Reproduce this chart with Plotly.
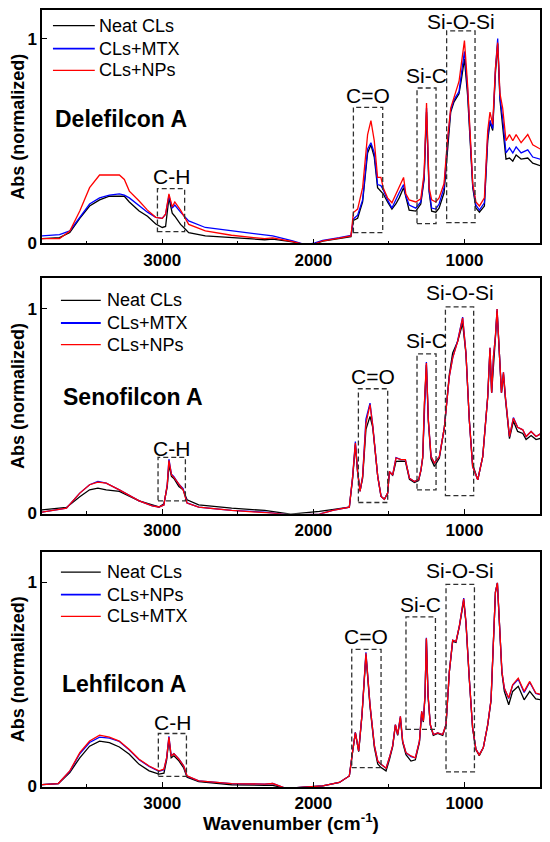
import plotly.graph_objects as go
from plotly.subplots import make_subplots

# ---- Delefilcon A ----
DELE_WN = [3800, 3680, 3612, 3546, 3481, 3415, 3350, 3284, 3251, 3218, 3153, 3098, 3043, 3000,
           2978, 2956, 2934, 2917, 2879, 2858, 2825, 2715, 2542, 2322, 2269, 2137, 2050, 1990,
           1938, 1828, 1751, 1735, 1707, 1674, 1641, 1619, 1597, 1575, 1553, 1538, 1509, 1480,
           1454, 1432, 1403, 1388, 1366, 1322, 1289, 1267, 1251, 1234, 1217, 1190, 1168, 1135,
           1113, 1091, 1069, 1036, 1020, 1000, 979, 957, 945, 924, 901, 868, 846, 831, 813,
           795, 780, 765, 747, 725, 702, 680, 658, 625, 581, 548, 493]
DELE_NEAT = [0.02, 0.025, 0.05, 0.12, 0.18, 0.21, 0.228, 0.23, 0.228, 0.20, 0.156, 0.13, 0.092, 0.075,
             0.08, 0.22, 0.145, 0.13, 0.09, 0.075, 0.05, 0.034, 0.026, 0.015, 0.018, 0.004, -0.01, -0.005,
             0.008, 0.02, 0.03, 0.11, 0.12, 0.20, 0.44, 0.48, 0.42, 0.27, 0.25, 0.24, 0.20, 0.165,
             0.19, 0.22, 0.27, 0.22, 0.16, 0.155, 0.19, 0.31, 0.64, 0.25, 0.155, 0.15, 0.17, 0.245,
             0.465, 0.64, 0.69, 0.73, 0.80, 0.90, 0.72, 0.44, 0.27, 0.17, 0.15, 0.18, 0.50, 0.59, 0.55,
             0.83, 0.975, 0.70, 0.58, 0.41, 0.415, 0.40, 0.43, 0.41, 0.415, 0.39, 0.376]
DELE_MTX = [0.034, 0.04, 0.058, 0.125, 0.19, 0.22, 0.233, 0.24, 0.233, 0.22, 0.18, 0.15, 0.125, 0.12,
            0.14, 0.23, 0.17, 0.185, 0.15, 0.135, 0.107, 0.075, 0.058, 0.037, 0.034, 0.01, -0.01, 0.0,
            0.012, 0.025, 0.036, 0.117, 0.135, 0.21, 0.46, 0.49, 0.44, 0.285, 0.28, 0.26, 0.21, 0.17,
            0.215, 0.245, 0.285, 0.23, 0.185, 0.17, 0.20, 0.32, 0.66, 0.26, 0.17, 0.165, 0.19, 0.27,
            0.485, 0.65, 0.70, 0.74, 0.83, 0.937, 0.75, 0.45, 0.28, 0.185, 0.16, 0.196, 0.52, 0.60, 0.56,
            0.85, 1.0, 0.71, 0.61, 0.44, 0.465, 0.44, 0.47, 0.44, 0.455, 0.42, 0.408]
DELE_NPS = [0.02, 0.02, 0.058, 0.156, 0.27, 0.332, 0.332, 0.332, 0.31, 0.253, 0.205, 0.16, 0.125, 0.12,
            0.14, 0.24, 0.176, 0.20, 0.16, 0.13, 0.09, 0.058, 0.037, 0.02, 0.024, 0.006, -0.01, -0.005,
            0.01, 0.023, 0.034, 0.148, 0.165, 0.27, 0.53, 0.598, 0.50, 0.32, 0.32, 0.27, 0.22, 0.196,
            0.24, 0.27, 0.32, 0.24, 0.21, 0.20, 0.215, 0.34, 0.684, 0.27, 0.21, 0.20, 0.22, 0.29,
            0.50, 0.66, 0.717, 0.79, 0.88, 0.99, 0.77, 0.47, 0.29, 0.20, 0.18, 0.22, 0.55, 0.64, 0.58,
            0.855, 0.98, 0.73, 0.66, 0.50, 0.53, 0.50, 0.53, 0.49, 0.53, 0.48, 0.457]

# ---- Senofilcon A ----
SENO_WN = [3800, 3634, 3546, 3481, 3426, 3371, 3284, 3240, 3153, 3066, 3022, 2989, 2967, 2956,
           2939, 2923, 2890, 2862, 2836, 2759, 2541, 2322, 2269, 2150, 1960, 1872, 1762, 1740,
           1722, 1707, 1691, 1674, 1652, 1625, 1607, 1574, 1552, 1530, 1508, 1497, 1475, 1453,
           1420, 1391, 1364, 1331, 1303, 1288, 1276, 1265, 1252, 1239, 1221, 1199, 1166, 1133,
           1100, 1078, 1045, 1012, 990, 968, 946, 912, 879, 846, 831, 820, 808, 795, 784, 769,
           755, 742, 729, 702, 676, 648, 614, 592, 559, 526, 493]
SENO_NEAT = [0.016, 0.028, 0.08, 0.114, 0.122, 0.114, 0.106, 0.09, 0.06, 0.04, 0.03, 0.046, 0.13, 0.236,
             0.18, 0.17, 0.13, 0.114, 0.065, 0.04, 0.024, 0.013, 0.008, -0.005, 0.008, 0.016, 0.029, 0.17,
             0.335, 0.2, 0.11, 0.17, 0.41, 0.474, 0.42, 0.18, 0.082, 0.068, 0.098, 0.2, 0.185, 0.253,
             0.255, 0.253, 0.165, 0.15, 0.16, 0.21, 0.27, 0.53, 0.725, 0.45, 0.265, 0.229, 0.27, 0.42,
             0.68, 0.784, 0.84, 0.93, 0.78, 0.457, 0.24, 0.163, 0.277, 0.57, 0.80, 0.59, 0.75, 0.86, 0.99, 0.78,
             0.59, 0.68, 0.56, 0.365, 0.45, 0.40, 0.39, 0.36, 0.38, 0.36, 0.367]
SENO_MTX = [0.004, 0.024, 0.098, 0.139, 0.155, 0.147, 0.114, 0.095, 0.06, 0.035, 0.03, 0.04, 0.14, 0.264,
            0.19, 0.178, 0.141, 0.12, 0.05, 0.029, 0.013, 0.005, 0.0, -0.01, -0.005, 0.013, 0.029, 0.18,
            0.35, 0.2, 0.106, 0.18, 0.46, 0.539, 0.43, 0.18, 0.082, 0.068, 0.098, 0.204, 0.187, 0.272,
            0.262, 0.262, 0.171, 0.155, 0.165, 0.21, 0.277, 0.539, 0.74, 0.457, 0.277, 0.245, 0.277, 0.42,
            0.67, 0.76, 0.845, 0.96, 0.784, 0.457, 0.228, 0.163, 0.277, 0.57, 0.81, 0.59, 0.767, 0.866, 1.0, 0.784,
            0.59, 0.69, 0.57, 0.375, 0.468, 0.42, 0.408, 0.375, 0.40, 0.375, 0.39]
SENO_NPS = [0.004, 0.024, 0.098, 0.139, 0.152, 0.147, 0.114, 0.095, 0.06, 0.035, 0.03, 0.04, 0.14, 0.258,
            0.187, 0.175, 0.139, 0.114, 0.049, 0.029, 0.013, 0.005, 0.0, -0.01, -0.005, 0.013, 0.029, 0.18,
            0.343, 0.2, 0.106, 0.18, 0.44, 0.531, 0.427, 0.18, 0.082, 0.068, 0.098, 0.204, 0.187, 0.27,
            0.262, 0.262, 0.171, 0.155, 0.165, 0.21, 0.277, 0.539, 0.735, 0.457, 0.277, 0.245, 0.277, 0.42,
            0.67, 0.76, 0.84, 0.956, 0.784, 0.457, 0.228, 0.163, 0.277, 0.57, 0.81, 0.59, 0.767, 0.866, 1.0, 0.784,
            0.59, 0.69, 0.57, 0.375, 0.465, 0.42, 0.408, 0.375, 0.40, 0.375, 0.39]

# ---- Lehfilcon A ----
LEHF_WN = [3800, 3688, 3612, 3546, 3481, 3415, 3350, 3284, 3218, 3153, 3087, 3022, 2989, 2971,
           2956, 2941, 2923, 2890, 2858, 2836, 2759, 2541, 2322, 2269, 2181, 1938, 1828, 1762,
           1740, 1722, 1700, 1678, 1652, 1625, 1596, 1574, 1552, 1519, 1497, 1475, 1457, 1442,
           1424, 1409, 1387, 1354, 1325, 1298, 1283, 1272, 1261, 1252, 1241, 1226, 1206, 1177,
           1144, 1122, 1100, 1078, 1056, 1033, 1005, 990, 968, 946, 924, 902, 875, 846, 824, 808,
           795, 782, 769, 752, 736, 707, 681, 644, 605, 568, 528, 488]
LEHF_NEAT = [0.008, 0.014, 0.068, 0.14, 0.197, 0.222, 0.214, 0.193, 0.157, 0.108, 0.076, 0.06, 0.065, 0.13,
             0.23, 0.14, 0.15, 0.125, 0.09, 0.045, 0.024, 0.008, 0.005, 0.005, -0.01, 0.003, 0.019, 0.051,
             0.17, 0.263, 0.17, 0.35, 0.643, 0.39, 0.19, 0.11, 0.092, 0.076, 0.13, 0.195, 0.30, 0.25,
             0.335, 0.215, 0.155, 0.124, 0.13, 0.215, 0.36, 0.315, 0.44, 0.72, 0.44, 0.30, 0.25, 0.26,
             0.25, 0.30, 0.56, 0.71, 0.705, 0.785, 0.91, 0.80, 0.525, 0.285, 0.18, 0.15, 0.19, 0.30, 0.42, 0.69,
             0.95, 0.995, 0.82, 0.555, 0.465, 0.40, 0.465, 0.49, 0.424, 0.465, 0.428, 0.424]
LEHF_NPS = [0.008, 0.014, 0.074, 0.16, 0.215, 0.241, 0.236, 0.22, 0.178, 0.13, 0.098, 0.074, 0.082, 0.14,
            0.245, 0.15, 0.16, 0.135, 0.1, 0.05, 0.027, 0.014, 0.011, 0.014, -0.01, 0.003, 0.019, 0.051,
            0.173, 0.265, 0.173, 0.352, 0.657, 0.4, 0.2, 0.124, 0.108, 0.089, 0.14, 0.2, 0.303, 0.254,
            0.343, 0.222, 0.165, 0.146, 0.14, 0.222, 0.368, 0.32, 0.45, 0.728, 0.449, 0.303, 0.254, 0.262,
            0.254, 0.303, 0.562, 0.716, 0.709, 0.789, 0.922, 0.805, 0.53, 0.287, 0.181, 0.156, 0.19, 0.303, 0.425, 0.692,
            0.951, 0.997, 0.822, 0.562, 0.48, 0.43, 0.495, 0.525, 0.46, 0.51, 0.455, 0.447]
LEHF_MTX = [0.008, 0.014, 0.076, 0.165, 0.222, 0.251, 0.241, 0.222, 0.181, 0.133, 0.10, 0.076, 0.084, 0.14,
            0.241, 0.149, 0.16, 0.133, 0.1, 0.051, 0.027, 0.014, 0.011, 0.014, -0.01, 0.003, 0.019, 0.051,
            0.173, 0.263, 0.173, 0.352, 0.652, 0.4, 0.2, 0.124, 0.108, 0.089, 0.14, 0.2, 0.303, 0.254,
            0.343, 0.222, 0.165, 0.149, 0.14, 0.222, 0.368, 0.32, 0.45, 0.725, 0.449, 0.303, 0.254, 0.262,
            0.254, 0.303, 0.562, 0.716, 0.709, 0.789, 0.919, 0.805, 0.53, 0.287, 0.181, 0.154, 0.19, 0.303, 0.425, 0.692,
            0.951, 0.997, 0.822, 0.562, 0.481, 0.433, 0.498, 0.53, 0.465, 0.514, 0.457, 0.449]

# band boxes: (wn from, wn to, abs bottom, abs top, label height)
BAND_LABELS = ["C-H", "C=O", "Si-C", "Si-O-Si"]
DELE_BOXES = [(3032, 2852, 0.055, 0.265, 0.327), (1735, 1541, 0.05, 0.663, 0.72),
              (1314, 1188, 0.094, 0.758, 0.82), (1118, 930, 0.099, 1.038, 1.083)]
SENO_BOXES = [(3028, 2847, 0.06, 0.273, 0.314), (1702, 1508, 0.052, 0.609, 0.67),
              (1314, 1188, 0.114, 0.78, 0.845), (1126, 939, 0.086, 1.01, 1.081)]
LEHF_BOXES = [(3026, 2840, 0.049, 0.259, 0.311), (1746, 1552, 0.092, 0.671, 0.733),
              (1387, 1192, 0.279, 0.83, 0.892), (1122, 934, 0.071, 0.989, 1.057)]

FONT = "Liberation Sans, Arial, sans-serif"
BLACK, BLUE, RED = "#000000", "#0000ff", "#ff0000"

panels = [
    dict(name="Delefilcon A", wn=DELE_WN, boxes=DELE_BOXES, label_x=0.022, label_y=0.605, ytop=1.14,
         series=[("Neat CLs", DELE_NEAT, BLACK), ("CLs+MTX", DELE_MTX, BLUE), ("CLs+NPs", DELE_NPS, RED)],
         leg_x=(0.022, 0.106, 0.11), leg_y=[1.063, 0.951, 0.844]),
    dict(name="Senofilcon A", wn=SENO_WN, boxes=SENO_BOXES, label_x=0.039, label_y=0.57, ytop=1.15,
         series=[("Neat CLs", SENO_NEAT, BLACK), ("CLs+MTX", SENO_MTX, BLUE), ("CLs+NPs", SENO_NPS, RED)],
         leg_x=(0.038, 0.118, 0.126), leg_y=[1.042, 0.931, 0.825]),
    dict(name="Lehfilcon A", wn=LEHF_WN, boxes=LEHF_BOXES, label_x=0.036, label_y=0.50, ytop=1.15,
         series=[("Neat CLs", LEHF_NEAT, BLACK), ("CLs+NPs", LEHF_NPS, BLUE), ("CLs+MTX", LEHF_MTX, RED)],
         leg_x=(0.038, 0.118, 0.126), leg_y=[1.049, 0.939, 0.833]),
]
domains = [[0.6996, 1.0], [0.3517, 0.6547], [0.0, 0.303]]

fig = make_subplots(rows=3, cols=1)

for i, p in enumerate(panels):
    row = i + 1
    xref = "x" if i == 0 else f"x{i + 1}"
    yref = "y" if i == 0 else f"y{i + 1}"
    lx0, lx1, tx = p["leg_x"]
    for (name, vals, color), ly in zip(p["series"], p["leg_y"]):
        fig.add_trace(
            go.Scatter(x=p["wn"], y=vals, name=name, mode="lines",
                       line=dict(color=color, width=1.3), showlegend=False),
            row=row, col=1,
        )
        # legend swatch + label
        fig.add_shape(type="line", xref="paper", yref=yref, x0=lx0, x1=lx1, y0=ly, y1=ly,
                      line=dict(color=color, width=1.8 if color == BLUE else 1.3))
        fig.add_annotation(xref="paper", yref=yref, x=tx, y=ly, xanchor="left", yanchor="middle",
                           text=name, showarrow=False,
                           font=dict(family=FONT, size=18, color="black"))
    for label, (x0, x1, y0, y1, ly) in zip(BAND_LABELS, p["boxes"]):
        fig.add_shape(type="rect", xref=xref, yref=yref, x0=x0, x1=x1, y0=y0, y1=y1,
                      line=dict(color="#303030", width=1.3, dash="5px,3px"))
        fig.add_annotation(xref=xref, yref=yref, x=(x0 + x1) / 2, y=ly, text=label,
                           showarrow=False, font=dict(family=FONT, size=21, color="black"))
    fig.add_annotation(xref="paper", yref=yref, x=p["label_x"], y=p["label_y"], xanchor="left",
                       text=f"<b>{p['name']}</b>", showarrow=False,
                       font=dict(family=FONT, size=23, color="black"))

    fig.update_xaxes(
        row=row, col=1, range=[3796, 500], showgrid=False, zeroline=False,
        showline=True, linecolor="black", linewidth=1.5, mirror=True,
        ticks="inside", ticklen=5, tickwidth=1.3, tickcolor="black",
        tickvals=[3000, 2000, 1000],
        minor=dict(ticks="inside", ticklen=3, tickwidth=1.2, tickcolor="black", tickvals=[3500, 2500, 1500]),
        tickfont=dict(family=FONT, size=17, color="black", weight="bold"),
    )
    fig.update_yaxes(
        row=row, col=1, range=[-0.003, p["ytop"]], domain=domains[i], showgrid=False, zeroline=False,
        showline=True, linecolor="black", linewidth=1.5, mirror=True,
        ticks="inside", ticklen=5, tickwidth=1.3, tickcolor="black", tickvals=[0, 1],
        tickfont=dict(family=FONT, size=17, color="black", weight="bold"),
        title=dict(text="Abs (normalized)", standoff=4,
                   font=dict(family=FONT, size=18, color="black", weight="bold")),
    )

fig.update_xaxes(
    row=3, col=1,
    title=dict(text="Wavenumber (cm<sup>-1</sup>)", standoff=6,
               font=dict(family=FONT, size=19, color="black", weight="bold")),
)

# page adds an 8px body margin, so the figure is drawn 16px smaller
fig.update_layout(
    width=534, height=826,
    margin=dict(l=34, r=0, t=0, b=47),
    plot_bgcolor="white", paper_bgcolor="white",
    font=dict(family=FONT, color="black"),
    showlegend=False,
)

fig.write_html("out.html")
